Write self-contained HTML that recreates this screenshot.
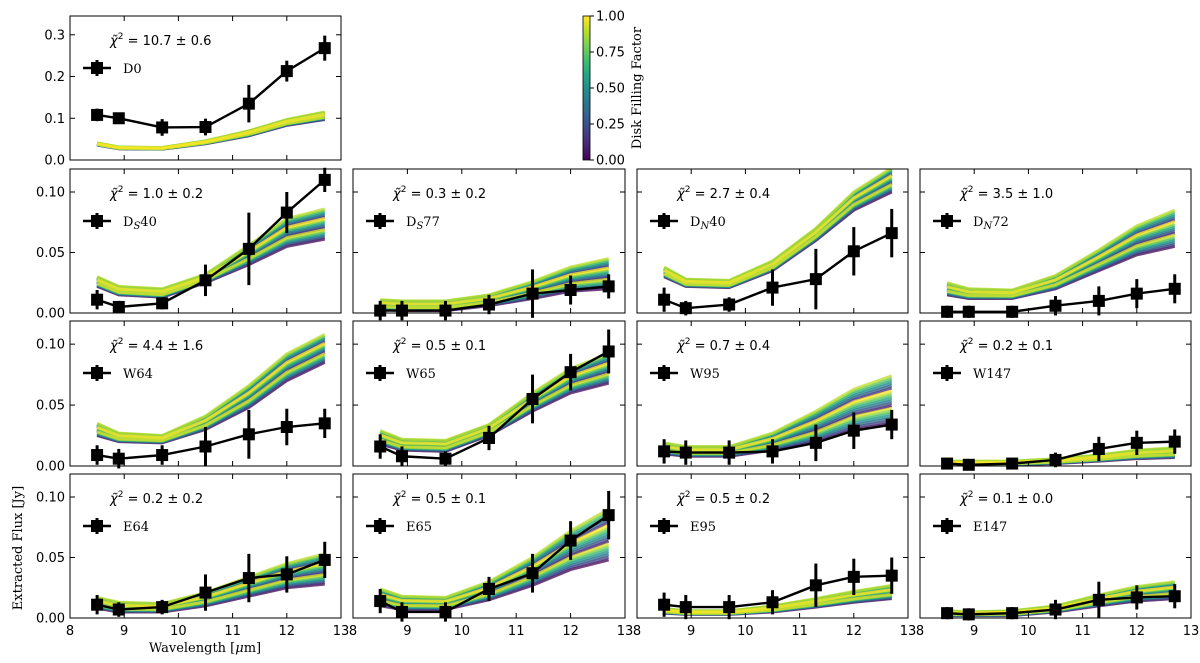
<!DOCTYPE html>
<html><head><meta charset="utf-8"><style>
html,body{margin:0;padding:0;background:#fff;width:1200px;height:663px;overflow:hidden}
svg{display:block}
.tk{font-family:"DejaVu Sans","Liberation Sans",sans-serif;font-size:13px;fill:#000}
.lb{font-family:"DejaVu Serif","Liberation Serif",serif;font-size:13px;fill:#000}
</style></head><body>
<svg id="chart" width="1200" height="663" xmlns="http://www.w3.org/2000/svg"></svg>
<script>
const wavelengths=[8.5,8.9,9.7,10.5,11.3,12,12.7];
const xTicks=[8,9,10,11,12,13];
const panelNames=["D0","DS40","DS77","DN40","DN72","W64","W65","W95","W147","E64","E65","E95","E147"];
const chiLabels=["10.7 ± 0.6","1.0 ± 0.2","0.3 ± 0.2","2.7 ± 0.4","3.5 ± 1.0","4.4 ± 1.6","0.5 ± 0.1","0.7 ± 0.4","0.2 ± 0.1","0.2 ± 0.2","0.5 ± 0.1","0.5 ± 0.2","0.1 ± 0.0"];
const fluxD0=[0.108,0.100,0.078,0.079,0.135,0.213,0.268];
const fluxDS40=[0.011,0.005,0.008,0.027,0.053,0.083,0.110];
const fluxDS77=[0.002,0.002,0.002,0.007,0.016,0.019,0.022];
const fluxDN40=[0.011,0.004,0.007,0.021,0.028,0.051,0.066];
const fluxDN72=[0.001,0.001,0.001,0.006,0.010,0.016,0.020];
const fluxW64=[0.009,0.006,0.009,0.016,0.026,0.032,0.035];
const fluxW65=[0.016,0.008,0.006,0.023,0.055,0.077,0.094];
const fluxW95=[0.012,0.011,0.011,0.012,0.019,0.029,0.034];
const fluxW147=[0.002,0.001,0.002,0.005,0.014,0.019,0.020];
const fluxE64=[0.011,0.007,0.009,0.021,0.033,0.036,0.048];
const fluxE65=[0.014,0.005,0.005,0.024,0.037,0.064,0.085];
const fluxE95=[0.011,0.009,0.009,0.013,0.027,0.034,0.035];
const fluxE147=[0.004,0.003,0.004,0.007,0.015,0.017,0.018];
const errD0=[0.015,0.008,0.02,0.02,0.045,0.025,0.03];
const errDS40=[0.008,0.005,0.005,0.013,0.03,0.017,0.01];
const errDS77=[0.008,0.008,0.008,0.008,0.02,0.012,0.01];
const errDN40=[0.01,0.006,0.006,0.015,0.025,0.02,0.02];
const errDN72=[0.005,0.005,0.005,0.008,0.012,0.012,0.012];
const errW64=[0.008,0.008,0.008,0.016,0.02,0.015,0.012];
const errW65=[0.01,0.008,0.006,0.01,0.02,0.015,0.018];
const errW95=[0.01,0.01,0.01,0.01,0.015,0.015,0.012];
const errW147=[0.004,0.004,0.004,0.006,0.01,0.01,0.01];
const errE64=[0.008,0.006,0.006,0.015,0.02,0.015,0.015];
const errE65=[0.01,0.008,0.008,0.01,0.016,0.016,0.02];
const errE95=[0.01,0.01,0.01,0.01,0.018,0.015,0.015];
const errE147=[0.005,0.005,0.005,0.008,0.015,0.01,0.01];
const modelLowD0=[0.036,0.027,0.026,0.039,0.058,0.083,0.097];
const modelHighD0=[0.041,0.031,0.030,0.046,0.070,0.097,0.115];
const modelLowDS40=[0.022,0.015,0.013,0.025,0.040,0.055,0.061];
const modelHighDS40=[0.030,0.022,0.020,0.032,0.056,0.078,0.086];
const modelLowDS77=[0.003,0.002,0.002,0.006,0.012,0.018,0.020];
const modelHighDS77=[0.011,0.010,0.010,0.015,0.026,0.038,0.045];
const modelLowDN40=[0.030,0.022,0.021,0.035,0.060,0.085,0.100];
const modelHighDN40=[0.038,0.028,0.027,0.043,0.070,0.100,0.120];
const modelLowDN72=[0.015,0.012,0.012,0.020,0.035,0.048,0.055];
const modelHighDN72=[0.025,0.020,0.019,0.031,0.052,0.072,0.085];
const modelLowW64=[0.025,0.020,0.019,0.030,0.048,0.070,0.085];
const modelHighW64=[0.035,0.027,0.025,0.041,0.066,0.092,0.108];
const modelLowW65=[0.018,0.013,0.012,0.025,0.045,0.060,0.068];
const modelHighW65=[0.029,0.022,0.021,0.034,0.060,0.080,0.092];
const modelLowW95=[0.010,0.008,0.008,0.013,0.020,0.030,0.035];
const modelHighW95=[0.019,0.016,0.016,0.027,0.045,0.063,0.074];
const modelLowW147=[0.001,0.001,0.001,0.002,0.004,0.006,0.007];
const modelHighW147=[0.004,0.004,0.004,0.006,0.009,0.013,0.015];
const modelLowE64=[0.008,0.005,0.005,0.010,0.018,0.025,0.028];
const modelHighE64=[0.017,0.013,0.012,0.021,0.034,0.045,0.053];
const modelLowE65=[0.010,0.007,0.007,0.015,0.027,0.040,0.048];
const modelHighE65=[0.024,0.018,0.017,0.030,0.050,0.072,0.090];
const modelLowE95=[0.004,0.003,0.003,0.005,0.009,0.013,0.016];
const modelHighE95=[0.008,0.006,0.006,0.010,0.016,0.022,0.027];
const modelLowE147=[0.002,0.002,0.002,0.005,0.010,0.014,0.016];
const modelHighE147=[0.006,0.005,0.006,0.010,0.019,0.026,0.030];
const cbTicks=[0,0.25,0.5,0.75,1];

const fluxes=[fluxD0,fluxDS40,fluxDS77,fluxDN40,fluxDN72,fluxW64,fluxW65,fluxW95,fluxW147,fluxE64,fluxE65,fluxE95,fluxE147];
const errs=[errD0,errDS40,errDS77,errDN40,errDN72,errW64,errW65,errW95,errW147,errE64,errE65,errE95,errE147];
const lows=[modelLowD0,modelLowDS40,modelLowDS77,modelLowDN40,modelLowDN72,modelLowW64,modelLowW65,modelLowW95,modelLowW147,modelLowE64,modelLowE65,modelLowE95,modelLowE147];
const highs=[modelHighD0,modelHighDS40,modelHighDS77,modelHighDN40,modelHighDN72,modelHighW64,modelHighW65,modelHighW95,modelHighW147,modelHighE64,modelHighE65,modelHighE95,modelHighE147];

const NS="http://www.w3.org/2000/svg";
const svg=document.getElementById('chart');
function mk(tag,attrs,parent){const e=document.createElementNS(NS,tag);for(const k in attrs)e.setAttribute(k,attrs[k]);(parent||svg).appendChild(e);return e;}
const vir=[[68,1,84],[72,36,117],[65,68,135],[53,95,141],[42,120,142],[33,145,140],[34,168,132],[68,191,112],[122,209,81],[189,223,38],[253,231,37]];
function viridis(t){const p=t*(vir.length-1),i=Math.min(Math.floor(p),vir.length-2),f=p-i;const c=vir[i].map((v,k)=>Math.round(v+(vir[i+1][k]-v)*f));return `rgb(${c[0]},${c[1]},${c[2]})`;}

const colX=[[70,341],[353,625],[637,908],[920,1191]];
const rowY=[[16,160],[169,313],[321,466],[474,618]];
const slots=[[0,0],[1,0],[1,1],[1,2],[1,3],[2,0],[2,1],[2,2],[2,3],[3,0],[3,1],[3,2],[3,3]];

slots.forEach((s,pi)=>{
  const [r,c]=s; const [x0,x1]=colX[c]; const [y0,y1]=rowY[r];
  const ymax=r===0?0.345:0.119;
  const yTicks=r===0?[0,0.1,0.2,0.3]:[0,0.05,0.1];
  const X=v=>x0+(v-8)/5*(x1-x0);
  const Y=v=>y1-v/ymax*(y1-y0);
  const g=mk('g',{});
  
  
  const cid='clip'+pi;
  const cp=mk('clipPath',{id:cid},g); mk('rect',{x:x0,y:y0,width:x1-x0,height:y1-y0},cp);
  const mg=mk('g',{'clip-path':`url(#${cid})`},g);
  
  
  const N=20;
  for(let k=0;k<N;k++){
    const t=k/(N-1);
    const w=(k*7%N)/(N-1);
    const pts=wavelengths.map((wl,i)=>X(wl)+','+Y(lows[pi][i]+(highs[pi][i]-lows[pi][i])*w)).join(' ');
    const pl=mk('polyline',{points:pts,fill:'none',stroke:viridis(t),'stroke-width':3,'stroke-opacity':0.75},mg);
    
    
  }
  const dg=mk('g',{},g);
  
  
  wavelengths.forEach((wl,i)=>{
    const eb=mk('line',{x1:X(wl),x2:X(wl),y1:Y(fluxes[pi][i]-errs[pi][i]),y2:Y(fluxes[pi][i]+errs[pi][i]),stroke:'#000','stroke-width':3},dg);
    
    
  });
  const dl=mk('polyline',{points:wavelengths.map((wl,i)=>X(wl)+','+Y(fluxes[pi][i])).join(' '),fill:'none',stroke:'#000','stroke-width':2.4},dg);
  
  
  wavelengths.forEach((wl,i)=>{
    const m=mk('rect',{x:X(wl)-6,y:Y(fluxes[pi][i])-6,width:12,height:12,fill:'#000'},dg);
    
    
  });
  mk('rect',{x:x0,y:y0,width:x1-x0,height:y1-y0,fill:'none',stroke:'#000','stroke-width':1});
  xTicks.forEach(v=>{
    mk('line',{x1:X(v),x2:X(v),y1:y1,y2:y1-5,stroke:'#000'},g);
    mk('line',{x1:X(v),x2:X(v),y1:y0,y2:y0+5,stroke:'#000'},g);
    if(r===3){const t=mk('text',{x:X(v),y:y1+17,'text-anchor':'middle',class:'tk'},g);t.textContent=v;
      }
  });
  yTicks.forEach(v=>{
    mk('line',{x1:x0,x2:x0+5,y1:Y(v),y2:Y(v),stroke:'#000'},g);
    mk('line',{x1:x1,x2:x1-5,y1:Y(v),y2:Y(v),stroke:'#000'},g);
    if(c===0){const t=mk('text',{x:x0-5,y:Y(v)+4.5,'text-anchor':'end',class:'tk'},g);t.textContent=r===0?v.toFixed(1):v.toFixed(2);
      }
  });
  const ct=mk('text',{x:x0+40,y:y0+29,class:'tk'},g);
  
  
  ct.innerHTML='<tspan font-style="italic">χ̃</tspan><tspan dy="-6" font-size="9">2</tspan><tspan dy="6"> = '+chiLabels[pi]+'</tspan>';
  const lg=mk('g',{},g);
  
  
  const ly=y0+52;
  mk('line',{x1:x0+13,x2:x0+41,y1:ly,y2:ly,stroke:'#000','stroke-width':2.4},lg);
  mk('line',{x1:x0+27,x2:x0+27,y1:ly-8,y2:ly+8,stroke:'#000','stroke-width':3},lg);
  mk('rect',{x:x0+21,y:ly-6,width:12,height:12,fill:'#000'},lg);
  const lt=mk('text',{x:x0+53,y:ly+5,class:'lb','font-size':'14'},lg);
  const nm=panelNames[pi];
  if(nm==='DS40'||nm==='DS77'||nm==='DN40'||nm==='DN72'){
    lt.innerHTML='D<tspan font-size="10" font-style="italic" dy="3">'+nm[1]+'</tspan><tspan dy="-3">'+nm.slice(2)+'</tspan>';
  } else lt.textContent=nm;
});

const cb=mk('g',{});


const defs=mk('defs',{});
const gr=mk('linearGradient',{id:'vg',x1:0,y1:1,x2:0,y2:0},defs);
for(let i=0;i<=10;i++)mk('stop',{offset:i/10,'stop-color':viridis(i/10)},gr);
const cbx=583,cby0=16,cby1=160;
mk('rect',{x:cbx,y:cby0,width:7,height:cby1-cby0,fill:'url(#vg)',stroke:'#000','stroke-width':0.8},cb);
cbTicks.forEach(v=>{
  const y=cby1-v*(cby1-cby0);
  mk('line',{x1:cbx+7,x2:cbx+11,y1:y,y2:y,stroke:'#000'},cb);
  const t=mk('text',{x:cbx+13,y:y+4.5,class:'tk'},cb);t.textContent=v.toFixed(2);
  
});
const cbl=mk('text',{x:0,y:0,class:'lb',transform:`translate(641,88) rotate(-90)`,'text-anchor':'middle'},cb);
cbl.textContent='Disk Filling Factor';


const yl=mk('text',{x:0,y:0,class:'lb',transform:'translate(22,548) rotate(-90)','text-anchor':'middle'});
yl.textContent='Extracted Flux [Jy]';

const xl=mk('text',{x:205,y:652,class:'lb','text-anchor':'middle'});
xl.innerHTML='Wavelength [<tspan font-style="italic">μ</tspan>m]';

</script>
</body></html>
